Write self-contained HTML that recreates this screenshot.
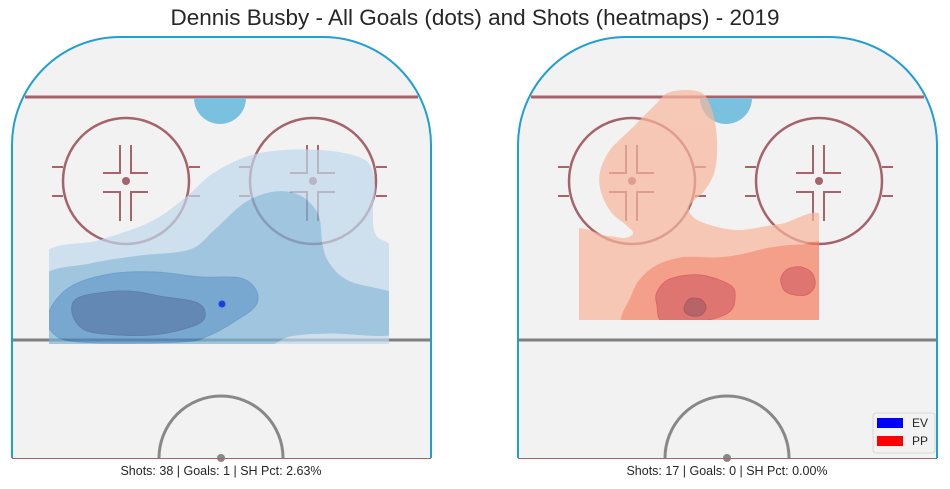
<!DOCTYPE html>
<html><head><meta charset="utf-8"><style>
html,body{margin:0;padding:0;background:#fff;}
svg{display:block;font-family:"Liberation Sans",Arial,sans-serif;}
</style></head><body>
<svg id="chart" width="950" height="489" viewBox="0 0 950 489" xmlns="http://www.w3.org/2000/svg">
<text x="475" y="25" text-anchor="middle" font-size="22.5" fill="#262626">Dennis Busby - All Goals (dots) and Shots (heatmaps) - 2019</text>
<g id="rinks"></g>
<g>
<rect x="873" y="413" width="62" height="40" rx="3" fill="#f2f2f2" stroke="#d8d8d8"/>
<rect x="877" y="418" width="26" height="10" fill="#0000ff"/>
<text x="912" y="427" font-size="12" fill="#262626">EV</text>
<rect x="877" y="436" width="26" height="10" fill="#ff0000"/>
<text x="912" y="445" font-size="12" fill="#262626">PP</text>
</g>
</svg>
<script>
// Rink-local coordinates. Contour levels of shot density.
const evLevel1 = [[40,350],[40,258],[100,240],[150,222],[185,198],[215,172],[260,153],[320,150],[365,160],[375,185],[373,210],[376,235],[398,258],[398,350]];
const evLevel2 = [[40,280],[90,264],[140,256],[190,250],[215,230],[245,203],[275,192],[300,196],[318,215],[322,245],[330,265],[350,282],[398,297],[398,333],[330,333],[290,336],[240,350],[40,350]];
const evLevel3 = [[49,312],[70,287],[110,274],[155,272],[200,277],[240,278],[256,290],[256,305],[240,318],[210,335],[180,342],[80,342],[52,332]];
const evLevel4 = [[72,312],[80,297],[125,291],[165,297],[195,302],[205,312],[198,324],[160,334],[120,335],[85,330]];
const ppLevel1 = [[62,330],[62,235],[102,236],[119,238],[127,233],[120,225],[105,212],[95,192],[94,172],[104,150],[124,130],[149,105],[164,92],[194,92],[206,110],[211,140],[209,170],[199,190],[184,205],[186,216],[204,225],[234,230],[274,224],[320,220],[320,330]];
const ppLevel2 = [[126,330],[126,295],[144,270],[174,258],[209,258],[234,255],[264,248],[294,245],[320,248],[320,318],[262,322]];
const ppLevel3a = [[151,292],[164,279],[194,275],[224,285],[229,298],[222,313],[192,322],[157,322],[151,305]];
const ppLevel3b = [[275,278],[282,269],[295,267],[306,273],[309,285],[302,294],[289,295],[278,290]];
const ppLevel4 = [[178,308],[182,300],[189,298],[197,301],[200,308],[195,315],[187,316],[180,313]];
const evGoals = [[222,304]];
const ppGoals = [];
const captions = ["Shots: 38 | Goals: 1 | SH Pct: 2.63%","Shots: 17 | Goals: 0 | SH Pct: 0.00%"];
const rinkOffsets = [0, 506];

const NS="http://www.w3.org/2000/svg";
const root=document.getElementById('rinks');
function mk(tag,attrs,parent){const e=document.createElementNS(NS,tag);for(const k in attrs)e.setAttribute(k,attrs[k]);(parent||root).appendChild(e);return e;}
function smooth(pts,ox){
  const n=pts.length;const P=pts.map(p=>[p[0]+ox,p[1]]);
  let d=`M${P[0][0]},${P[0][1]}`;
  for(let i=0;i<n;i++){
    const p0=P[(i-1+n)%n],p1=P[i],p2=P[(i+1)%n],p3=P[(i+2)%n];
    const c1=[p1[0]+(p2[0]-p0[0])/6,p1[1]+(p2[1]-p0[1])/6];
    const c2=[p2[0]-(p3[0]-p1[0])/6,p2[1]-(p3[1]-p1[1])/6];
    d+=` C${c1[0].toFixed(1)},${c1[1].toFixed(1)} ${c2[0].toFixed(1)},${c2[1].toFixed(1)} ${p2[0]},${p2[1]}`;
  }
  return d+'Z';
}

function drawRink(i,levels,colors,strokes,goals,goalColor,clip){
  const ox=rinkOffsets[i];
  const sx=x=>x+ox;
  const g=mk('g',{});
  
  
  const outline=mk('path',{d:`M${sx(12)},458 L${sx(12)},145 A108,108 0 0 1 ${sx(120)},37 L${sx(323)},37 A108,108 0 0 1 ${sx(431)},145 L${sx(431)},458 Z`,fill:'#f2f2f2',stroke:'none'},g);
  
  
  const gl=mk('line',{x1:sx(25),y1:97,x2:sx(418),y2:97,stroke:'#a6636b','stroke-width':3},g);
  
  
  const cr=mk('path',{d:`M${sx(194)},98 A26,26 0 0 0 ${sx(246)},98 Z`,fill:'#79c1df'},g);
  
  
  [126,313].forEach(cx=>{
    const fc=mk('g',{stroke:'#a6636b','stroke-width':2.5,fill:'none'},g);
    
    
    const X=sx(cx);
    mk('circle',{cx:X,cy:181,r:63},fc);
    mk('circle',{cx:X,cy:181,r:4,fill:'#a6636b',stroke:'none'},fc);
    const d=`M${X-6},145 V173 H${X-23} M${X+5},145 V173 H${X+22} M${X-6},221 V192 H${X-23} M${X+5},221 V192 H${X+22} M${X-74},167 H${X-63} M${X-74},196 H${X-63} M${X+63},167 H${X+74} M${X+63},196 H${X+74}`;
    mk('path',{d:d,'stroke-width':2},fc);
  });
  const bl=mk('line',{x1:sx(12),y1:340,x2:sx(431),y2:340,stroke:'#7f7f7f','stroke-width':3},g);
  
  
  const cc=mk('path',{d:`M${sx(159)},458 A62,62 0 0 1 ${sx(283)},458`,fill:'none',stroke:'#888','stroke-width':3},g);
  
  
  mk('circle',{cx:sx(221),cy:458,r:4,fill:'#888'},g);
  const cp=mk('clipPath',{id:'clip'+i},g);
  mk('rect',{x:sx(clip[0]),y:clip[1],width:clip[2]-clip[0],height:clip[3]-clip[1]},cp);
  const hg=mk('g',{opacity:0.7,'clip-path':`url(#clip${i})`},g);
  
  
  levels.forEach((pts,k)=>{
    const p=mk('path',{d:smooth(pts,ox),fill:colors[k],stroke:strokes[k],'stroke-width':1},hg);
    
    
  });
  goals.forEach(pt=>{
    const c=mk('circle',{cx:sx(pt[0]),cy:pt[1],r:3.5,fill:goalColor},g);
    
    
  });
  const ol=mk('path',{d:`M${sx(12)},458 L${sx(12)},145 A108,108 0 0 1 ${sx(120)},37 L${sx(323)},37 A108,108 0 0 1 ${sx(431)},145 L${sx(431)},458`,fill:'none',stroke:'#1f9fd4','stroke-width':2},g);
  
  
  const bt=mk('line',{x1:sx(12),y1:458.5,x2:sx(431),y2:458.5,stroke:'#a6636b','stroke-width':1},g);
  
  
  const t=mk('text',{x:sx(221),y:475,'text-anchor':'middle','font-size':12.5,fill:'#262626'},g);
  t.textContent=captions[i];
  
  
}
drawRink(0,[evLevel1,evLevel2,evLevel3,evLevel4],['#c0d8ec','#7db3d7','#458ac1','#295c9b'],['none','#7db3d7','#3a7cb8','#1f4f90'],evGoals,'#1a3fe0',[49,100,389,344]);
drawRink(1,[ppLevel1,ppLevel2,ppLevel3a,ppLevel3b,ppLevel4],['#f8b69c','#f67d5d','#d8413b','#d8413b','#9f2930'],['none','#f67d5d','#d02a2a','#d02a2a','#8a1a20'],ppGoals,'#ff0000',[73,90,313,320]);
</script>
</body></html>
